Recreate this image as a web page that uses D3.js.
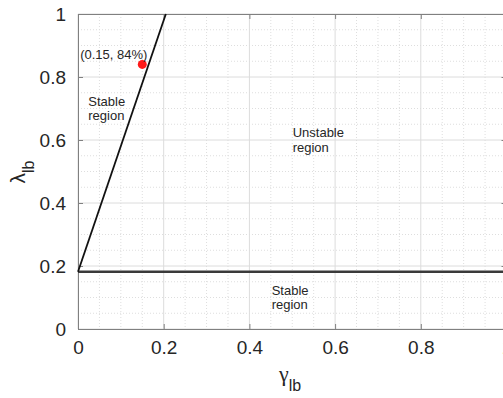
<!DOCTYPE html>
<html>
<head>
<meta charset="utf-8">
<script src="https://cdn.jsdelivr.net/npm/d3@7"></script>
<style>
  html, body { margin: 0; padding: 0; background: #fff; overflow: hidden; }
  svg { display: block; font-family: "Liberation Sans", Arial, Helvetica, sans-serif; }
</style>
</head>
<body>
<svg id="chart" width="503" height="398"></svg>
<script>
// ---- data ----
const xTicks = [0, 0.2, 0.4, 0.6, 0.8, 1];
const yTicks = [0, 0.2, 0.4, 0.6, 0.8, 1];
const xTickLabels = ["0", "0.2", "0.4", "0.6", "0.8", "1"];
const yTickLabels = ["0", "0.2", "0.4", "0.6", "0.8", "1"];
const minorStep = 0.05;
const boundaryX = [0, 0.205];        // slanted stability boundary
const boundaryY = [0.182, 1];
const thresholdX = [0, 1];           // horizontal boundary
const thresholdY = [0.182, 0.182];
const pointX = [0.15];
const pointY = [0.84];
const pointLabels = ["(0.15, 84%)"];
const regionLabels = [
  { x: 0.024, y: 0.7095, lines: ["Stable", "region"] },
  { x: 0.501, y: 0.6095, lines: ["Unstable", "region"] },
  { x: 0.452, y: 0.108, lines: ["Stable", "region"] }
];
const pointLabelPos = [{ x: 0.005, y: 0.857 }];

// ---- layout ----
const svg = d3.select("#chart");
const pL = 78, pR = 506.5, pT = 14, pB = 329;
const x = d3.scaleLinear().domain([0, 1]).range([pL, pR]);
const y = d3.scaleLinear().domain([0, 1]).range([pB, pT]);

const minor = d3.range(0, 1 + 1e-9, minorStep).filter(v => Math.abs((v / 0.2) - Math.round(v / 0.2)) > 1e-6);

// minor grid
svg.append("g").selectAll("line").data(minor).join("line")
  .attr("x1", d => x(d)).attr("x2", d => x(d)).attr("y1", pT).attr("y2", pB)
  .attr("stroke", "#dedede").attr("stroke-width", 1).attr("stroke-dasharray", "1,2");
svg.append("g").selectAll("line").data(minor).join("line")
  .attr("y1", d => y(d)).attr("y2", d => y(d)).attr("x1", pL).attr("x2", pR)
  .attr("stroke", "#dedede").attr("stroke-width", 1).attr("stroke-dasharray", "1,2");
// major grid
svg.append("g").selectAll("line").data(xTicks).join("line")
  .attr("x1", d => x(d)).attr("x2", d => x(d)).attr("y1", pT).attr("y2", pB)
  .attr("stroke", "#dcdcdc").attr("stroke-width", 1);
svg.append("g").selectAll("line").data(yTicks).join("line")
  .attr("y1", d => y(d)).attr("y2", d => y(d)).attr("x1", pL).attr("x2", pR)
  .attr("stroke", "#dcdcdc").attr("stroke-width", 1);

// axes
function styleAxis(g, hideText) {
  g.select(".domain").attr("stroke", "#808080").attr("stroke-width", 1);
  g.selectAll(".tick line").attr("stroke", "#808080");
  g.selectAll(".tick text").attr("fill", "#262626").style("font-size", "19px")
    .style("font-family", '"Liberation Sans", Arial, sans-serif');
  if (hideText) g.selectAll(".tick text").remove();
}
svg.append("g").attr("transform", `translate(0,${pB})`)
  .call(d3.axisBottom(x).tickValues(xTicks).tickFormat((d, i) => xTickLabels[i]).tickSizeInner(-5).tickSizeOuter(0).tickPadding(12))
  .call(g => styleAxis(g, false));
svg.append("g").attr("transform", `translate(0,${pT})`)
  .call(d3.axisTop(x).tickValues(xTicks).tickSizeInner(-5).tickSizeOuter(0))
  .call(g => styleAxis(g, true));
svg.append("g").attr("transform", `translate(${pL},0)`)
  .call(d3.axisLeft(y).tickValues(yTicks).tickFormat((d, i) => yTickLabels[i]).tickSizeInner(-5).tickSizeOuter(0).tickPadding(12))
  .call(g => styleAxis(g, false));
svg.append("g").attr("transform", `translate(${pR},0)`)
  .call(d3.axisRight(y).tickValues(yTicks).tickSizeInner(-5).tickSizeOuter(0))
  .call(g => styleAxis(g, true));

// boundary lines
const line = d3.line().x(d => x(d[0])).y(d => y(d[1]));
svg.append("path").datum(thresholdX.map((v, i) => [v, thresholdY[i]]))
  .attr("d", line).attr("stroke", "#3a3a3a").attr("stroke-width", 2.5).attr("fill", "none");
svg.append("path").datum(boundaryX.map((v, i) => [v, boundaryY[i]]))
  .attr("d", line).attr("stroke", "#111").attr("stroke-width", 1.8).attr("fill", "none");

// point
svg.append("g").selectAll("circle").data(pointX).join("circle")
  .attr("cx", d => x(d)).attr("cy", (d, i) => y(pointY[i])).attr("r", 4.5).attr("fill", "#ff1a1a");

// annotation texts
svg.append("g").selectAll("text").data(pointLabelPos).join("text")
  .attr("x", d => x(d.x)).attr("y", d => y(d.y))
  .attr("fill", "#262626").style("font-size", "13px")
  .text((d, i) => pointLabels[i]);

const rg = svg.append("g").selectAll("text").data(regionLabels).join("text")
  .attr("x", d => x(d.x)).attr("y", d => y(d.y))
  .attr("fill", "#262626").style("font-size", "13px");
rg.selectAll("tspan").data(d => d.lines.map(t => ({ t, x: d.x }))).join("tspan")
  .attr("x", d => x(d.x)).attr("dy", (d, i) => i === 0 ? 0 : 14.5).text(d => d.t);

// axis labels
const xl = svg.append("text").attr("x", 290).attr("y", 381).attr("text-anchor", "middle").attr("fill", "#262626");
xl.append("tspan").style("font-size", "22px").style("font-family", '"Liberation Serif", serif').text("γ");
xl.append("tspan").style("font-size", "16px").attr("dy", 10).text("lb");

const yl = svg.append("text").attr("transform", `translate(25,172) rotate(-90)`).attr("text-anchor", "middle").attr("fill", "#262626");
yl.append("tspan").style("font-size", "21px").text("λ");
yl.append("tspan").style("font-size", "16px").attr("dy", 9).text("lb");
</script>
</body>
</html>
